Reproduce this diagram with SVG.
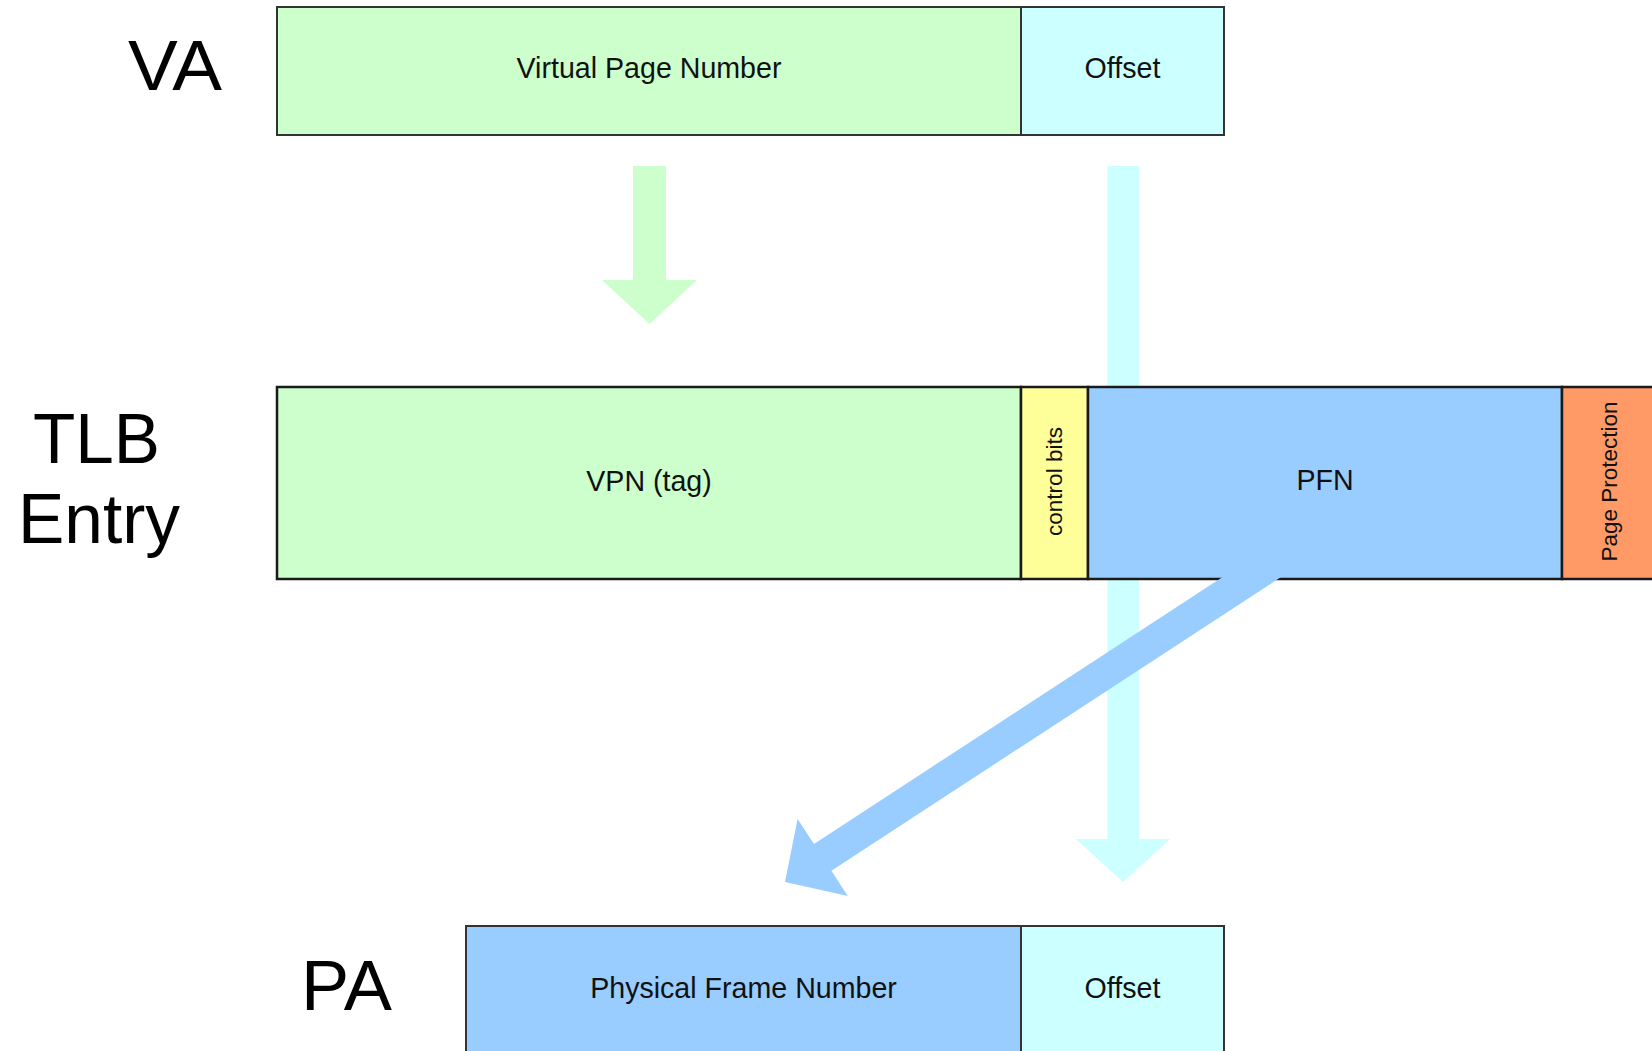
<svg xmlns="http://www.w3.org/2000/svg" width="1652" height="1051" viewBox="0 0 1652 1051">
<style>
  .box { stroke: #333; stroke-width: 2; }
  .tlbbox { stroke: #1a1a1a; stroke-width: 2.5; }
  .va { fill: #CCFFCC; }
  .off { fill: #CCFFFF; }
  .ctl { fill: #FFFF99; }
  .pfn { fill: #99CCFF; }
  .prot { fill: #FF9966; }
  .lbl { font-family: "Liberation Sans", Arial, sans-serif; font-size: 28.6px; fill: #111; text-anchor: middle; }
  .small { font-family: "Liberation Sans", Arial, sans-serif; font-size: 22.5px; fill: #111; text-anchor: middle; }
  .title { font-family: "Liberation Sans", Arial, sans-serif; font-size: 71px; fill: #000; text-anchor: middle; }
</style>
<rect width="1652" height="1051" fill="#fff"/>

<g id="titles">
  <text class="title" x="175" y="90" textLength="94" lengthAdjust="spacingAndGlyphs">VA</text>
  <text class="title" x="96.5" y="463" textLength="127" lengthAdjust="spacingAndGlyphs">TLB</text>
  <text class="title" x="99" y="543" textLength="162" lengthAdjust="spacingAndGlyphs">Entry</text>
  <text class="title" x="346.5" y="1010" textLength="91" lengthAdjust="spacingAndGlyphs">PA</text>
</g>

<g id="connectors-back">
  <polygon id="offset-arrow" fill="#CCFFFF" points="1107.5,166 1139,166 1139,839 1170,839 1123,882 1076,839 1107.5,839"/>
</g>

<g id="va">
  <rect class="box va" x="277" y="7" width="744" height="128"/>
  <rect class="box off" x="1021" y="7" width="203" height="128"/>
  <text class="lbl" x="649" y="78">Virtual Page Number</text>
  <text class="lbl" x="1122.5" y="78">Offset</text>
</g>

<g id="tlb">
  <rect class="tlbbox va" x="277" y="387" width="744" height="192"/>
  <rect class="tlbbox ctl" x="1021" y="387" width="67" height="192"/>
  <rect class="tlbbox pfn" x="1088" y="387" width="474" height="192"/>
  <rect class="tlbbox prot" x="1562" y="387" width="100" height="192"/>
  <text class="lbl" x="649" y="491">VPN (tag)</text>
  <text class="small" transform="translate(1062,481.5) rotate(-90)">control bits</text>
  <text class="lbl" x="1325" y="490">PFN</text>
  <text class="small" transform="translate(1617,481.5) rotate(-90)">Page Protection</text>
</g>

<g id="pa">
  <rect class="box pfn" x="466" y="926" width="555" height="140"/>
  <rect class="box off" x="1021" y="926" width="203" height="140"/>
  <text class="lbl" x="743.5" y="998">Physical Frame Number</text>
  <text class="lbl" x="1122.5" y="998">Offset</text>
</g>

<g id="connectors">
  <polygon id="vpn-arrow" fill="#CCFFCC" points="633,166 666,166 666,280 697,280 649.5,324 602,280 633,280"/>
  <polygon id="pfn-arrow" fill="#99CCFF" points="1304.3,523.6 1321.7,550.4 831.4,870.8 847.8,895.9 785,882 797.6,818.9 814,844"/>
</g>
</svg>
